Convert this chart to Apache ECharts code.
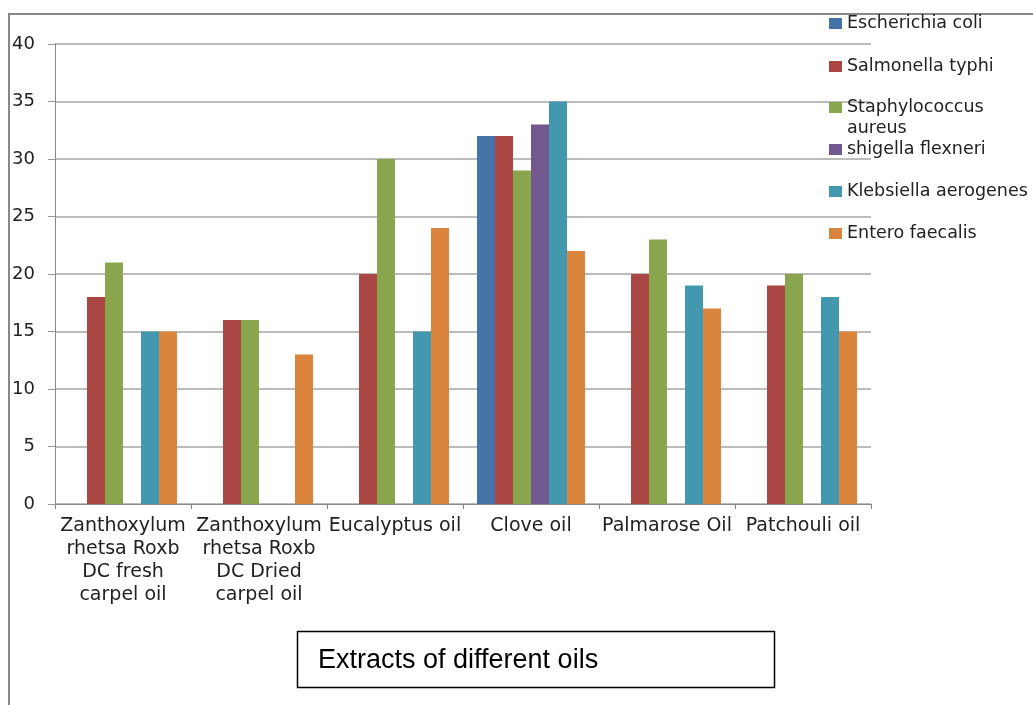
<!DOCTYPE html>
<html>
<head>
<meta charset="utf-8">
<script src="https://cdn.jsdelivr.net/npm/echarts@6/dist/echarts.min.js"></script>
<style>
  html, body { margin: 0; padding: 0; background: #fff; }
  #chart { width: 1033px; height: 705px; }
</style>
</head>
<body>
<div id="chart"></div>
<script>
// oils on the x axis
const categories = [
  'Zanthoxylum\nrhetsa Roxb\nDC fresh\ncarpel oil',
  'Zanthoxylum\nrhetsa Roxb\nDC Dried\ncarpel oil',
  'Eucalyptus oil',
  'Clove oil',
  'Palmarose Oil',
  'Patchouli oil'
];
const seriesNames = [
  'Escherichia coli',
  'Salmonella typhi',
  'Staphylococcus aureus',
  'shigella flexneri',
  'Klebsiella aerogenes',
  'Entero faecalis'
];
// zone of inhibition per organism (0 = no bar)
const ecoli      = [0, 0, 0, 32, 0, 0];
const salmonella = [18, 16, 20, 32, 20, 19];
const staph      = [21, 16, 30, 29, 23, 20];
const shigella   = [0, 0, 0, 33, 0, 0];
const klebsiella = [15, 0, 15, 35, 19, 18];
const entero     = [15, 13, 24, 22, 17, 15];
const yTicks = [0, 5, 10, 15, 20, 25, 30, 35, 40];

const colors = ['#4572A7', '#AA4643', '#89A54E', '#71588F', '#4198AF', '#DB843D'];
const values = [ecoli, salmonella, staph, shigella, klebsiella, entero];

const chart = echarts.init(document.getElementById('chart'));

const legendBase = {
  orient: 'vertical',
  left: 829,
  padding: 0,
  itemWidth: 13,
  itemHeight: 11,
  itemGap: 22,
  icon: 'rect',
  selectedMode: false,
  textStyle: { fontFamily: 'DejaVu Sans', fontSize: 17.5, color: '#222', lineHeight: 21 }
};

chart.setOption({
  animation: false,
  backgroundColor: '#fff',
  color: colors,
  textStyle: { fontFamily: 'DejaVu Sans' },
  grid: { left: 55, right: 162, top: 44, bottom: 201 },
  legend: [
    Object.assign({}, legendBase, { top: 13, itemGap: 22, data: seriesNames.slice(0, 2) }),
    Object.assign({}, legendBase, {
      top: 76, data: [seriesNames[2]],
      formatter: () => '\nStaphylococcus\naureus'
    }),
    Object.assign({}, legendBase, { top: 139, itemGap: 21, data: seriesNames.slice(3) })
  ],
  xAxis: {
    type: 'category',
    data: categories,
    axisLine: { lineStyle: { color: '#888', width: 1 } },
    axisTick: { show: true, length: 5, lineStyle: { color: '#888' } },
    axisLabel: {
      interval: 0, margin: 11, fontSize: 19, lineHeight: 23, color: '#222'
    }
  },
  yAxis: {
    type: 'value',
    min: yTicks[0],
    max: yTicks[yTicks.length - 1],
    interval: 5,
    axisLine: { show: true, lineStyle: { color: '#888', width: 1 } },
    axisTick: { show: true, length: 7, lineStyle: { color: '#999' } },
    axisLabel: { margin: 20, fontSize: 18, color: '#222' },
    splitLine: { lineStyle: { color: '#a6a6a6', width: 1.5 } }
  },
  series: seriesNames.map((name, i) => ({
    name: name,
    type: 'bar',
    data: values[i],
    barGap: '0%',
    barCategoryGap: '20.6%',
    itemStyle: { color: colors[i] }
  })),
  graphic: [
    {
      type: 'rect',
      shape: { x: 9, y: 14, width: 1200, height: 900 },
      style: { fill: 'none', stroke: '#888', lineWidth: 2 },
      silent: true
    },
    {
      type: 'rect',
      shape: { x: 297.5, y: 631.5, width: 477, height: 56 },
      style: { fill: '#fff', stroke: '#000', lineWidth: 1.5 }
    },
    {
      type: 'text',
      x: 318, y: 661,
      style: {
        text: 'Extracts of different oils',
        fontFamily: 'Liberation Sans',
        fontSize: 27,
        fill: '#000',
        verticalAlign: 'middle'
      }
    }
  ]
});
</script>
</body>
</html>
